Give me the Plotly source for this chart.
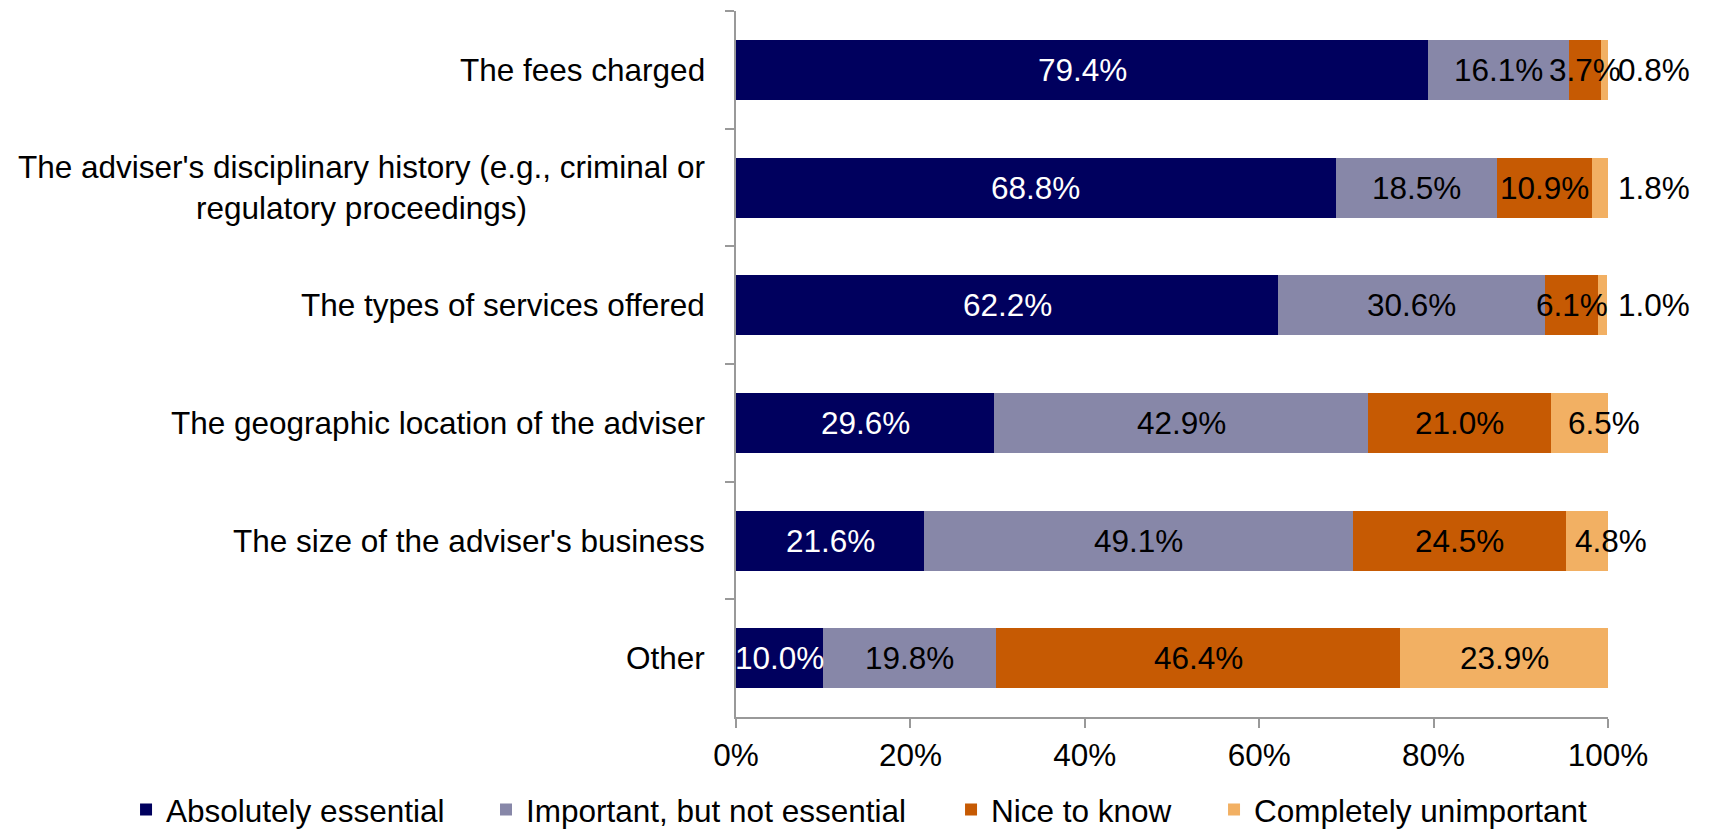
import plotly.graph_objects as go

# Survey categories (top to bottom) and the share of answers per rating
categories = [
    "The fees charged",
    "The adviser's disciplinary history (e.g., criminal or<br>regulatory proceedings)",
    "The types of services offered",
    "The geographic location of the adviser",
    "The size of the adviser's business",
    "Other",
]
series_names = [
    "Absolutely essential",
    "Important, but not essential",
    "Nice to know",
    "Completely unimportant",
]
absolutely_essential = [79.4, 68.8, 62.2, 29.6, 21.6, 10.0]
important_not_essential = [16.1, 18.5, 30.6, 42.9, 49.1, 19.8]
nice_to_know = [3.7, 10.9, 6.1, 21.0, 24.5, 46.4]
completely_unimportant = [0.8, 1.8, 1.0, 6.5, 4.8, 23.9]
x_ticks = [0, 20, 40, 60, 80, 100]

colors = ["#00005E", "#8787A8", "#C65A03", "#F2B063"]
label_colors = ["white", "black", "black", "black"]
FONT = "Liberation Sans, Arial, sans-serif"
FS = 31.5
AXIS_COLOR = "#999999"

# One legend box per series so the entries can be spread along the bottom
legend_ids = ["legend", "legend2", "legend3", "legend4"]
legend_x = [-0.6995, -0.2867, 0.2466, 0.5482]

fig = go.Figure()
all_series = [absolutely_essential, important_not_essential, nice_to_know, completely_unimportant]
for i, (name, vals) in enumerate(zip(series_names, all_series)):
    fig.add_trace(go.Bar(
        name=name,
        legend=legend_ids[i],
        y=categories,
        x=vals,
        orientation="h",
        marker=dict(color=colors[i], line=dict(width=0)),
        hoverinfo="x+y+name",
    ))

# Value labels for every segment
for row, cat in enumerate(categories):
    start = 0.0
    for i, vals in enumerate(all_series):
        v = vals[row]
        end = start + v
        last = i == len(all_series) - 1
        label = dict(text=f"{v:.1f}%", y=cat, yref="y", xref="x", showarrow=False,
                     yanchor="middle",
                     font=dict(family=FONT, size=FS, color=label_colors[i]))
        if last and v < 3:
            # sliver at the end of the bar: label sits just past it
            label.update(x=100, xanchor="left", xshift=8)
        elif last and v < 10:
            label.update(x=(start + end) / 2, xanchor="center", xshift=24)
        else:
            label.update(x=(start + end) / 2, xanchor="center")
        fig.add_annotation(**label)
        start = end

# Category labels, right-aligned against the axis with centred line breaks
for cat in categories:
    fig.add_annotation(
        x=0, xref="paper", y=cat, yref="y",
        text=cat, showarrow=False,
        xanchor="right", yanchor="middle", align="center",
        xshift=-29,
        font=dict(family=FONT, size=FS, color="black"),
    )

legend_style = dict(
    orientation="h",
    xanchor="left",
    y=-0.131, yanchor="middle",
    font=dict(family=FONT, size=FS, color="black"),
    itemclick=False,
    bgcolor="rgba(0,0,0,0)",
)

fig.update_layout(
    barmode="stack",
    bargap=0.49,
    width=1723,
    height=830,
    margin=dict(l=736, r=115, t=11, b=113, autoexpand=False),
    paper_bgcolor="white",
    plot_bgcolor="white",
    font=dict(family=FONT, size=FS, color="black"),
    showlegend=True,
    xaxis=dict(
        range=[0, 100],
        tickvals=x_ticks,
        ticktext=[f"{t}%" for t in x_ticks],
        showgrid=False,
        zeroline=False,
        showline=True,
        linecolor=AXIS_COLOR,
        linewidth=2,
        ticks="outside",
        ticklen=9,
        tickwidth=2,
        tickcolor=AXIS_COLOR,
        tickfont=dict(family=FONT, size=FS, color="black"),
    ),
    yaxis=dict(
        autorange="reversed",
        showgrid=False,
        zeroline=False,
        showline=True,
        linecolor=AXIS_COLOR,
        linewidth=2,
        ticks="outside",
        tickson="boundaries",
        ticklen=9,
        tickwidth=2,
        tickcolor=AXIS_COLOR,
        showticklabels=False,
    ),
)
for lid, lx in zip(legend_ids, legend_x):
    fig.update_layout({lid: dict(legend_style, x=lx)})

fig.write_html("out.html")
